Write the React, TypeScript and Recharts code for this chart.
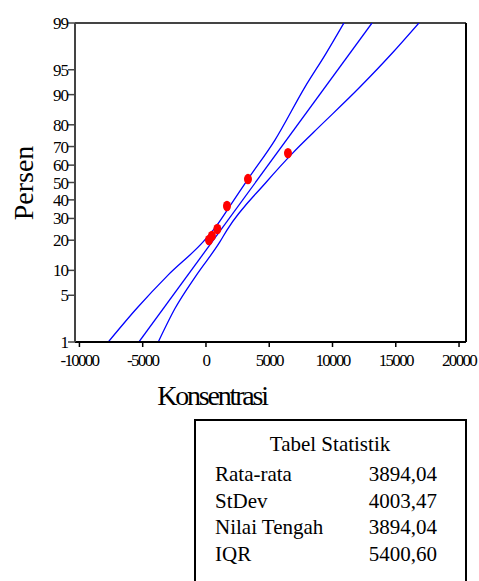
import { ComposedChart, Line, Scatter, XAxis, YAxis, ReferenceLine } from 'recharts'

// nilai (Konsentrasi vs Persen)
const titikKonsentrasi = [240, 470, 900, 1660, 3320, 6480]
const titikPersen = [20.1, 21.8, 24.9, 36.6, 52.0, 66.6]

const garisKonsentrasi = [-5300, 13120]
const garisPersen = [1, 99]

const batasKiriKonsentrasi = [-7720, -5480, -2980, -210, 710, 1900, 3320, 5450, 7820, 9480, 10900]
const batasKiriPersen = [1, 3.3, 8.9, 19.4, 25.4, 36.6, 52.0, 73.2, 91.8, 97.0, 99]

const batasKananKonsentrasi = [-3770, -2450, -740, 1110, 1660, 4740, 6870, 8450, 12170, 14690, 16830]
const batasKananPersen = [1, 3.3, 8.9, 19.4, 24.4, 50, 66.7, 76.5, 91.8, 97.0, 99]

const xTicks = [-10000, -5000, 0, 5000, 10000, 15000, 20000]
const persenTicks = [1, 5, 10, 20, 30, 40, 50, 60, 70, 80, 90, 95, 99]

const statLabel = ['Rata-rata', 'StDev', 'Nilai Tengah', 'IQR']
const statNilai = ['3894,04', '4003,47', '3894,04', '5400,60']

const SERIF = 'Liberation Serif, Times New Roman, serif'

// invers distribusi normal (skala probabilitas)
function probit(p: number) {
  const a = [-39.69683028665376, 220.9460984245205, -275.9285104469687, 138.357751867269, -30.66479806614716, 2.506628277459239]
  const b = [-54.47609879822406, 161.5858368580409, -155.6989798598866, 66.80131188771972, -13.28068155288572]
  const c = [-0.007784894002430293, -0.3223964580411365, -2.400758277161838, -2.549732539343734, 4.374664141464968, 2.938163982698783]
  const d = [0.007784695709041462, 0.3224671290700398, 2.445134137142996, 3.754408661907416]
  const pl = 0.02425
  if (p < pl) {
    const q = Math.sqrt(-2 * Math.log(p))
    return (((((c[0] * q + c[1]) * q + c[2]) * q + c[3]) * q + c[4]) * q + c[5]) / ((((d[0] * q + d[1]) * q + d[2]) * q + d[3]) * q + 1)
  }
  if (p > 1 - pl) {
    const q = Math.sqrt(-2 * Math.log(1 - p))
    return -(((((c[0] * q + c[1]) * q + c[2]) * q + c[3]) * q + c[4]) * q + c[5]) / ((((d[0] * q + d[1]) * q + d[2]) * q + d[3]) * q + 1)
  }
  const q = p - 0.5
  const r = q * q
  return (((((a[0] * r + a[1]) * r + a[2]) * r + a[3]) * r + a[4]) * r + a[5]) * q / (((((b[0] * r + b[1]) * r + b[2]) * r + b[3]) * r + b[4]) * r + 1)
}

const toRows = (xs: number[], ps: number[]) => xs.map((x, i) => ({ x, z: probit(ps[i] / 100) }))

const titik = toRows(titikKonsentrasi, titikPersen)
const garis = toRows(garisKonsentrasi, garisPersen)
const batasKiri = toRows(batasKiriKonsentrasi, batasKiriPersen)
const batasKanan = toRows(batasKananKonsentrasi, batasKananPersen)

const Z_MIN = probit(0.01)
const Z_MAX = probit(0.99)
const X_MIN = -10350
const X_MAX = 20550
const zTicks = persenTicks.map(p => probit(p / 100))

function labelPersen(z: number) {
  let best = 0
  zTicks.forEach((t, i) => {
    if (Math.abs(t - z) < Math.abs(zTicks[best] - z)) best = i
  })
  return String(persenTicks[best])
}

type TickProps = { x?: number; y?: number; payload?: { value: number } }

function XTick({ x = 0, y = 0, payload }: TickProps) {
  return (
    <text x={x} y={y} dy="0.71em" textAnchor="middle" fill="#000" fontFamily={SERIF} fontSize={17}
      style={{ fontFamily: SERIF, fontSize: 17, letterSpacing: -1.7 }}>
      {payload?.value}
    </text>
  )
}

function YTick({ x = 0, y = 0, payload }: TickProps) {
  return (
    <text x={x + 1} y={y} dy="0.355em" textAnchor="end" fill="#000" fontFamily={SERIF} fontSize={17}
      style={{ fontFamily: SERIF, fontSize: 17, letterSpacing: -1 }}>
      {labelPersen(payload?.value ?? 0)}
    </text>
  )
}

function Titik(props: { cx?: number; cy?: number }) {
  if (props.cx == null || props.cy == null) return null
  return <ellipse cx={props.cx} cy={props.cy} rx={4} ry={5.2} fill="#ff0000" />
}

export default function App() {
  return (
    <div style={{ position: 'absolute', left: 0, top: 0, width: 479, height: 581, background: '#fff', fontFamily: SERIF, color: '#000' }}>
      <div style={{ position: 'absolute', left: 0, top: 0 }}>
        <ComposedChart width={479} height={400} margin={{ top: 23, right: 13, left: 0, bottom: 0 }} style={{ fontFamily: SERIF }}>
          <XAxis
            type="number"
            dataKey="x"
            domain={[X_MIN, X_MAX]}
            ticks={xTicks}
            interval={0}
            allowDataOverflow
            height={58}
            tickSize={5}
            tickMargin={7}
            axisLine={{ stroke: '#000', strokeWidth: 2 }}
            tickLine={{ stroke: '#000', strokeWidth: 1.5 }}
            tick={<XTick />}
          />
          <YAxis
            type="number"
            dataKey="z"
            domain={[Z_MIN, Z_MAX]}
            ticks={zTicks}
            interval={0}
            allowDataOverflow
            width={75}
            tickSize={7}
            tickMargin={1}
            axisLine={{ stroke: '#444', strokeWidth: 2 }}
            tickLine={{ stroke: '#444', strokeWidth: 1.5 }}
            tick={<YTick />}
          />
          <ReferenceLine y={Z_MAX} stroke="#444" strokeWidth={2} />
          <ReferenceLine x={X_MAX} stroke="#000" strokeWidth={2} />
          <Line data={batasKiri} dataKey="z" type="monotone" stroke="#0000ff" strokeWidth={1.3} dot={false} isAnimationActive={false} />
          <Line data={garis} dataKey="z" type="linear" stroke="#0000ff" strokeWidth={1.3} dot={false} isAnimationActive={false} />
          <Line data={batasKanan} dataKey="z" type="monotone" stroke="#0000ff" strokeWidth={1.3} dot={false} isAnimationActive={false} />
          <Scatter data={titik} dataKey="z" shape={<Titik />} isAnimationActive={false} />
        </ComposedChart>
      </div>

      <div style={{ position: 'absolute', left: 24, top: 183, transform: 'translate(-50%, -50%) rotate(-90deg)', fontSize: 28, lineHeight: '28px', whiteSpace: 'nowrap' }}>
        Persen
      </div>
      <div style={{ position: 'absolute', left: 212, top: 382, transform: 'translateX(-50%)', fontSize: 28, lineHeight: '28px', letterSpacing: -2.2, whiteSpace: 'nowrap' }}>
        Konsentrasi
      </div>

      <div style={{ position: 'absolute', left: 194, top: 419, width: 273, height: 200, border: '2px solid #000', boxSizing: 'border-box' }} />
      <div style={{ position: 'absolute', left: 330, top: 434, transform: 'translateX(-50%)', fontSize: 21, lineHeight: '21px', whiteSpace: 'nowrap' }}>
        Tabel Statistik
      </div>
      {statLabel.map((s, i) => (
        <div key={s}>
          <div style={{ position: 'absolute', left: 215, top: 464 + i * 26.7, fontSize: 21, lineHeight: '21px', whiteSpace: 'nowrap' }}>{s}</div>
          <div style={{ position: 'absolute', right: 479 - 437, top: 464 + i * 26.7, fontSize: 21, lineHeight: '21px', whiteSpace: 'nowrap' }}>{statNilai[i]}</div>
        </div>
      ))}
    </div>
  )
}
